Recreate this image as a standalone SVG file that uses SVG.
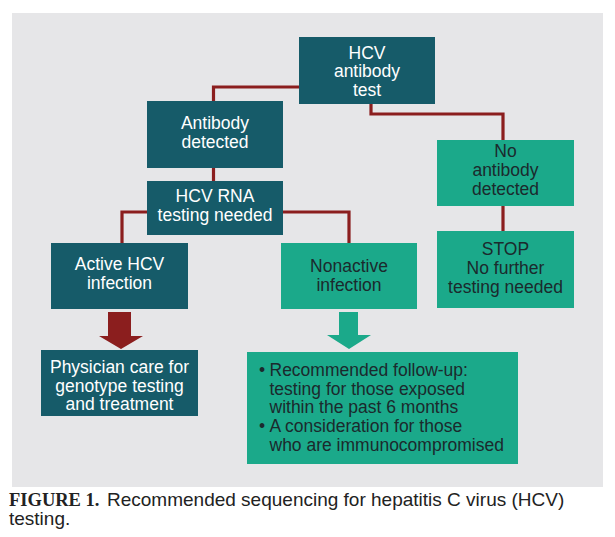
<svg xmlns="http://www.w3.org/2000/svg" width="615" height="537" viewBox="0 0 615 537">
<style>
.dark{fill:#165B69}
.green{fill:#1BA98A}
.t{font-family:"Liberation Sans",Arial,sans-serif;font-size:17.5px;text-anchor:middle}
.w{fill:#FFFFFF}
.k{fill:#1B2A2D}
.conn{fill:none;stroke:#8B1E1E;stroke-width:3.2}
.cap{font-family:"Liberation Sans",Arial,sans-serif;font-size:19px;fill:#222222}
</style>
<rect x="0" y="0" width="615" height="537" fill="#FFFFFF"/>
<rect x="12" y="13" width="591" height="474" fill="#E6E6E8"/>
<g id="connectors">
<path class="conn" d="M299,87 H213.5 V101"/>
<path class="conn" d="M371,104 V114 H503 V140"/>
<path class="conn" d="M213.5,168 V181"/>
<path class="conn" d="M147,212 H122 V243"/>
<path class="conn" d="M283,212 H349 V243"/>
<path class="conn" d="M503,206 V231"/>
<polygon fill="#8B1E1E" points="108,312 131,312 131,336 143,336 121,349 99,336 108,336"/>
<polygon fill="#1BA98A" points="339,312 358,312 358,335 371,335 349,349 327,335 339,335"/>
</g>
<g id="hcv-antibody-test">
<rect class="dark" x="299" y="37" width="136" height="67"/>
<text class="t w" x="367" y="58.5">HCV</text>
<text class="t w" x="367" y="77.3">antibody</text>
<text class="t w" x="367" y="96">test</text>
</g>
<g id="antibody-detected">
<rect class="dark" x="147" y="101" width="136" height="67"/>
<text class="t w" x="215" y="129.3">Antibody</text>
<text class="t w" x="215" y="147.7">detected</text>
</g>
<g id="hcv-rna">
<rect class="dark" x="147" y="181" width="136" height="54"/>
<text class="t w" x="215" y="202.3">HCV RNA</text>
<text class="t w" x="215" y="221">testing needed</text>
</g>
<g id="no-antibody">
<rect class="green" x="437" y="140" width="137" height="66"/>
<text class="t k" x="505.5" y="157.3">No</text>
<text class="t k" x="505.5" y="176">antibody</text>
<text class="t k" x="505.5" y="195">detected</text>
</g>
<g id="stop">
<rect class="green" x="437" y="231" width="137" height="77"/>
<text class="t k" x="505.5" y="255">STOP</text>
<text class="t k" x="505.5" y="274">No further</text>
<text class="t k" x="505.5" y="292.7">testing needed</text>
</g>
<g id="active-hcv">
<rect class="dark" x="51" y="243" width="137" height="66"/>
<text class="t w" x="119.5" y="270">Active HCV</text>
<text class="t w" x="119.5" y="288.7">infection</text>
</g>
<g id="nonactive">
<rect class="green" x="281" y="243" width="136" height="66"/>
<text class="t k" x="349" y="271.7">Nonactive</text>
<text class="t k" x="349" y="290.7">infection</text>
</g>
<g id="physician">
<rect class="dark" x="41" y="350" width="157" height="66"/>
<text class="t w" x="119.5" y="372.7">Physician care for</text>
<text class="t w" x="119.5" y="391.7">genotype testing</text>
<text class="t w" x="119.5" y="410.3">and treatment</text>
</g>
<g id="follow-up">
<rect class="green" x="247" y="352" width="271" height="112"/>
<text class="t k" style="text-anchor:start" x="259" y="376">•</text>
<text class="t k" style="text-anchor:start" x="269.5" y="376">Recommended follow-up:</text>
<text class="t k" style="text-anchor:start" x="269.5" y="394.7">testing for those exposed</text>
<text class="t k" style="text-anchor:start" x="269.5" y="413.3">within the past 6 months</text>
<text class="t k" style="text-anchor:start" x="259" y="432.3">•</text>
<text class="t k" style="text-anchor:start" x="269.5" y="432.3">A consideration for those</text>
<text class="t k" style="text-anchor:start" x="269.5" y="451">who are immunocompromised</text>
</g>
<g id="caption">
<text x="9" y="506" style="font-family:'Liberation Serif','Times New Roman',serif;font-weight:bold;font-size:18.5px;fill:#222222">FIGURE 1.</text>
<text class="cap" x="107" y="506">Recommended sequencing for hepatitis C virus (HCV)</text>
<text class="cap" x="9" y="525">testing.</text>
</g>
</svg>
